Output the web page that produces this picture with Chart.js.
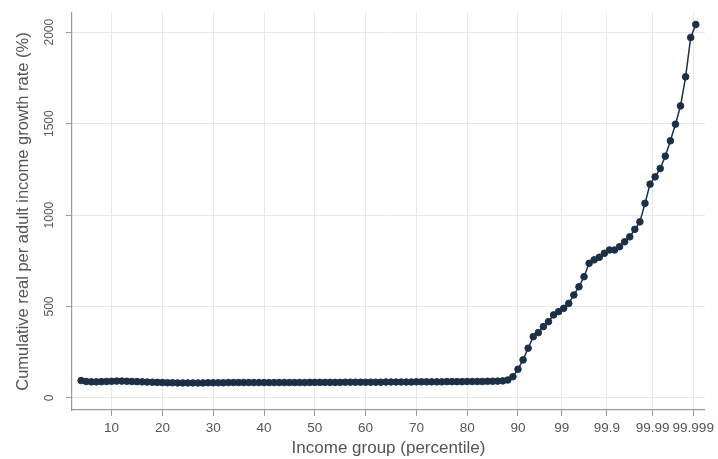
<!DOCTYPE html>
<html>
<head>
<meta charset="utf-8">
<script src="https://cdn.jsdelivr.net/npm/chart.js@4.4.0/dist/chart.umd.min.js"></script>
<style>
  body { margin: 0; background: #fff; }
  #chart-container { width: 718px; height: 459px; }
</style>
</head>
<body>
<div id="chart-container"><canvas id="chart"></canvas></div>
<script>
// percentile groups are numbered 1..99, then the top 1% is split in tenths, etc.
const firstGroup = 4;

// cumulative real per adult income growth rate (%), one value per group
const growthRate = [
  95, 90, 88, 88, 89, 90, 91, 92, 92, 91,
  90, 89, 88, 87, 86, 85, 84, 83, 83, 82,
  82, 82, 82, 82, 82, 83, 83, 83, 83, 84,
  84, 84, 84, 84, 84, 84, 84, 84, 84, 84,
  84, 84, 84, 84, 84, 85, 85, 85, 85, 85,
  85, 85, 86, 86, 86, 86, 86, 86, 86, 86,
  87, 87, 87, 87, 87, 87, 88, 88, 88, 88,
  88, 88, 89, 89, 89, 89, 90, 90, 90, 90,
  91, 91, 92, 93,
  98, 116, 157, 208, 272, 335, 357, 390, 417, 454,
  472, 490, 517, 563, 608, 663, 736, 755, 769, 791,
  809, 809, 827, 854, 881, 922, 963, 1064, 1169, 1209,
  1255, 1322, 1406, 1497, 1597, 1756, 1971, 2042
];

const xTickPositions = [10, 20, 30, 40, 50, 60, 70, 80, 90, 98.6, 107.5, 116.5, 124.5];
const xTickLabels = ["10", "20", "30", "40", "50", "60", "70", "80", "90", "99", "99.9", "99.99", "99.999"];
const yTickValues = [0, 500, 1000, 1500, 2000];
const yTickLabels = ["0", "500", "1000", "1500", "2000"];

const FONT = 'Arial, "Liberation Sans", sans-serif';
const textColor = "#555";
const navy = "#1b2f47";

// y tick labels in the original are turned sideways, draw them by hand
const rotatedYTicks = {
  id: "rotatedYTicks",
  afterDraw(chart) {
    const ctx = chart.ctx;
    const yScale = chart.scales.y;
    ctx.save();
    ctx.font = "12px " + FONT;
    ctx.fillStyle = textColor;
    ctx.textAlign = "center";
    ctx.textBaseline = "middle";
    yTickValues.forEach((v, i) => {
      const y = yScale.getPixelForValue(v);
      ctx.save();
      ctx.translate(yScale.right - 22, y);
      ctx.rotate(-Math.PI / 2);
      ctx.fillText(yTickLabels[i], 0, 0);
      ctx.restore();
    });
    ctx.restore();
  }
};

const ctx = document.getElementById("chart").getContext("2d");

const chart = new Chart(ctx, {
  type: "line",
  data: {
    datasets: [
      {
        data: growthRate.map((v, i) => ({ x: firstGroup + i, y: v })),
        borderColor: navy,
        backgroundColor: navy,
        borderWidth: 1.5,
        pointRadius: 3.3,
        pointBorderWidth: 1,
        pointBackgroundColor: navy,
        pointBorderColor: navy,
        tension: 0,
      },
    ],
  },
  options: {
    responsive: true,
    maintainAspectRatio: false,
    animation: false,
    events: [],
    layout: { padding: { top: 13, right: 6, left: 0, bottom: 0 } },
    plugins: {
      legend: { display: false },
      tooltip: { enabled: false },
    },
    scales: {
      x: {
        type: "linear",
        min: 2.2,
        max: 126.8,
        afterBuildTicks: (scale) => {
          scale.ticks = xTickPositions.map((v) => ({ value: v }));
        },
        afterFit: (scale) => {
          scale.height = 49;
        },
        ticks: {
          autoSkip: false,
          maxRotation: 0,
          minRotation: 0,
          padding: 4,
          color: textColor,
          font: { family: FONT, size: 13.5 },
          callback: (value, index) => xTickLabels[index],
        },
        grid: {
          color: "#e8e8e8",
          tickColor: "#9a9a9a",
          tickLength: 6,
        },
        border: { color: "#9a9a9a", width: 1.2 },
        title: {
          display: true,
          text: "Income group (percentile)",
          color: textColor,
          font: { family: FONT, size: 17, lineHeight: 1.2 },
          padding: { top: 0, bottom: 0 },
        },
      },
      y: {
        min: -66,
        max: 2105,
        afterBuildTicks: (scale) => {
          scale.ticks = yTickValues.map((v) => ({ value: v }));
        },
        afterFit: (scale) => {
          scale.width = 72;
        },
        ticks: { display: false },
        grid: {
          color: "#e8e8e8",
          tickColor: "#9a9a9a",
          tickLength: 6,
        },
        border: { color: "#9a9a9a", width: 1.2 },
        title: {
          display: true,
          text: "Cumulative real per adult income growth rate (%)",
          color: textColor,
          font: { family: FONT, size: 16.5, lineHeight: 1.2 },
          padding: { top: 14, bottom: 0 },
        },
      },
    },
  },
  plugins: [rotatedYTicks],
});
</script>
</body>
</html>
